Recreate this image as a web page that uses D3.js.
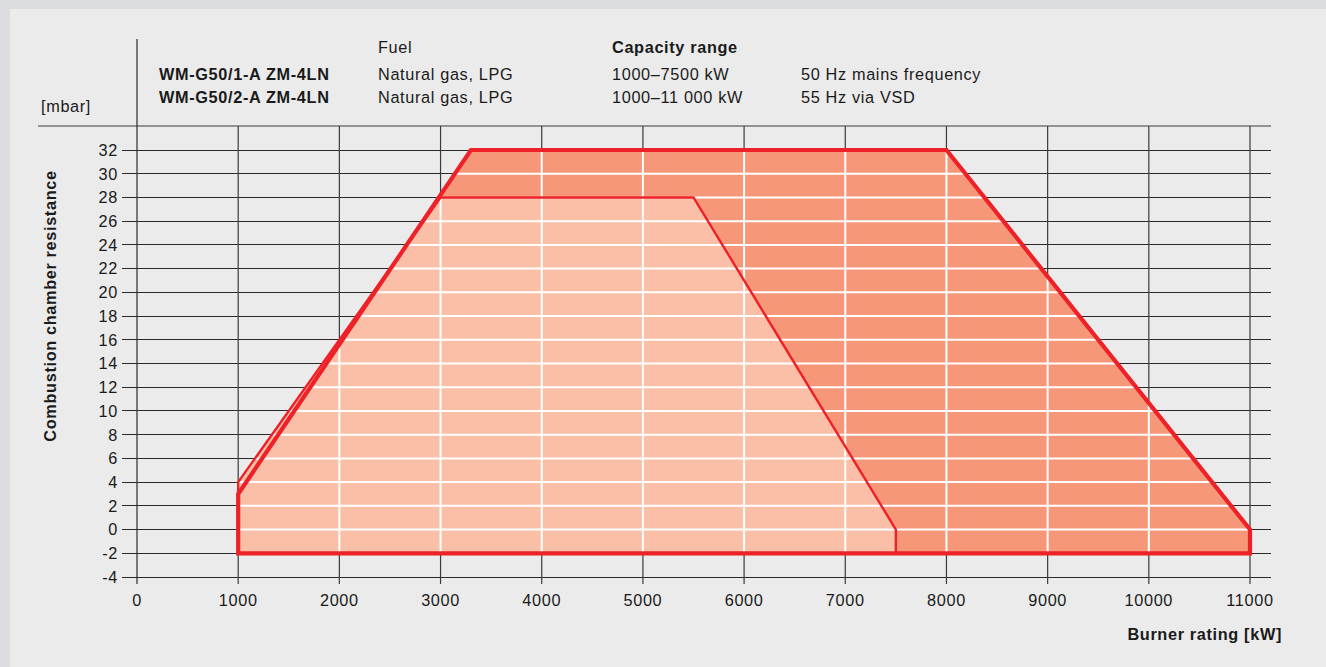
<!DOCTYPE html>
<html><head><meta charset="utf-8">
<script src="https://cdn.jsdelivr.net/npm/d3@7"></script>
<style>
html,body{margin:0;padding:0;background:#dcdde0;}
svg{display:block;font-family:"Liberation Sans",Arial,Helvetica,sans-serif;}
svg text{letter-spacing:0.65px;}
</style></head>
<body>
<svg id="c" width="1326" height="667"></svg>
<script>
const xTicks = [0,1000,2000,3000,4000,5000,6000,7000,8000,9000,10000,11000];
const yTicks = [-4,-2,0,2,4,6,8,10,12,14,16,18,20,22,24,26,28,30,32];
const range55 = [[1000,-2],[1000,3],[3300,32],[8000,32],[11000,0],[11000,-2]];
const range50 = [[1000,-2],[1000,4],[3000,28],[5500,28],[7500,0],[7500,-2]];
const models = ["WM-G50/1-A ZM-4LN","WM-G50/2-A ZM-4LN"];
const fuels = ["Natural gas, LPG","Natural gas, LPG"];
const capacities = ["1000–7500 kW","1000–11 000 kW"];
const notes = ["50 Hz mains frequency","55 Hz via VSD"];

const svg = d3.select("#c");
const ink = "#1a1a1a";
const fs = 16.3;
svg.append("rect").attr("x",10).attr("y",9).attr("width",1316).attr("height",658).attr("fill","#ebebeb");

const x = d3.scaleLinear().domain([0,11000]).range([137,1250]);
const y = d3.scaleLinear().domain([-4,32]).range([577,150]);
const gridRight = 1271, tickLeft = 122, headerY = 126, tickBottom = 584;

// black grid
const g = svg.append("g");
g.selectAll("line.h").data(yTicks).join("line")
  .attr("x1",tickLeft).attr("x2",gridRight)
  .attr("y1",d=>y(d)).attr("y2",d=>y(d))
  .attr("stroke","#2a2a2a").attr("stroke-width",1).attr("shape-rendering","crispEdges");
g.selectAll("line.v").data(xTicks.slice(1)).join("line")
  .attr("x1",d=>x(d)).attr("x2",d=>x(d))
  .attr("y1",headerY).attr("y2",tickBottom)
  .attr("stroke","#3a3a3a").attr("stroke-width",1.2);
g.append("line").attr("x1",38).attr("x2",gridRight).attr("y1",headerY).attr("y2",headerY)
  .attr("stroke","#3a3a3a").attr("stroke-width",1.2);
g.append("line").attr("x1",x(0)).attr("x2",x(0)).attr("y1",39).attr("y2",tickBottom)
  .attr("stroke","#2a2a2a").attr("stroke-width",1.2);

const line = d3.line().x(d=>x(d[0])).y(d=>y(d[1])).curve(d3.curveLinearClosed);

// fills
svg.append("path").attr("d",line(range55)).attr("fill","#f7977a");
svg.append("path").attr("d",line(range50)).attr("fill","#fbbfa8");

// white grid clipped to polygons
const clip = svg.append("clipPath").attr("id","areaClip");
clip.append("path").attr("d",line(range55));
clip.append("path").attr("d",line(range50));
const wg = svg.append("g").attr("clip-path","url(#areaClip)");
wg.selectAll("line.h").data(yTicks).join("line")
  .attr("x1",tickLeft).attr("x2",gridRight)
  .attr("y1",d=>y(d)).attr("y2",d=>y(d))
  .attr("stroke","#ffffff").attr("stroke-width",2);
wg.selectAll("line.v").data(xTicks).join("line")
  .attr("x1",d=>x(d)).attr("x2",d=>x(d))
  .attr("y1",headerY).attr("y2",tickBottom)
  .attr("stroke","#ffffff").attr("stroke-width",2);

// outlines
svg.append("path").attr("d",line(range50)).attr("fill","none")
  .attr("stroke","#ee2128").attr("stroke-width",2.4).attr("stroke-linejoin","miter");
svg.append("path").attr("d",line(range55)).attr("fill","none")
  .attr("stroke","#ee2128").attr("stroke-width",4.2).attr("stroke-linejoin","miter");

// tick labels
svg.append("g").selectAll("text").data(yTicks).join("text")
  .attr("x",118).attr("y",d=>y(d)).attr("dy","0.36em")
  .attr("text-anchor","end").attr("font-size",fs).attr("fill",ink).text(d=>d);
svg.append("g").selectAll("text").data(xTicks).join("text")
  .attr("x",d=>x(d)).attr("y",606)
  .attr("text-anchor","middle").attr("font-size",fs).attr("fill",ink).text(d=>d);

// axis titles
svg.append("text").attr("transform","translate(56,306) rotate(-90)")
  .attr("text-anchor","middle").attr("font-size",fs).attr("font-weight","bold")
  .attr("fill",ink).text("Combustion chamber resistance");
svg.append("text").attr("x",1282).attr("y",640).attr("text-anchor","end")
  .attr("font-size",fs).attr("font-weight","bold").attr("fill",ink).text("Burner rating [kW]");
svg.append("text").attr("x",41).attr("y",112).attr("font-size",fs).attr("fill",ink).text("[mbar]");

// header table
svg.append("text").attr("x",378).attr("y",53).attr("font-size",fs).attr("fill",ink).text("Fuel");
svg.append("text").attr("x",612).attr("y",53).attr("font-size",fs).attr("font-weight","bold").attr("fill",ink).text("Capacity range");
const rowsY = [80,103];
svg.append("g").selectAll("text").data(models).join("text")
  .attr("x",159).attr("y",(d,i)=>rowsY[i]).attr("font-size",fs).attr("font-weight","bold").attr("fill",ink).text(d=>d);
svg.append("g").selectAll("text").data(fuels).join("text")
  .attr("x",378).attr("y",(d,i)=>rowsY[i]).attr("font-size",fs).attr("fill",ink).text(d=>d);
svg.append("g").selectAll("text").data(capacities).join("text")
  .attr("x",612).attr("y",(d,i)=>rowsY[i]).attr("font-size",fs).attr("fill",ink).text(d=>d);
svg.append("g").selectAll("text").data(notes).join("text")
  .attr("x",801).attr("y",(d,i)=>rowsY[i]).attr("font-size",fs).attr("fill",ink).text(d=>d);
</script>
</body></html>
